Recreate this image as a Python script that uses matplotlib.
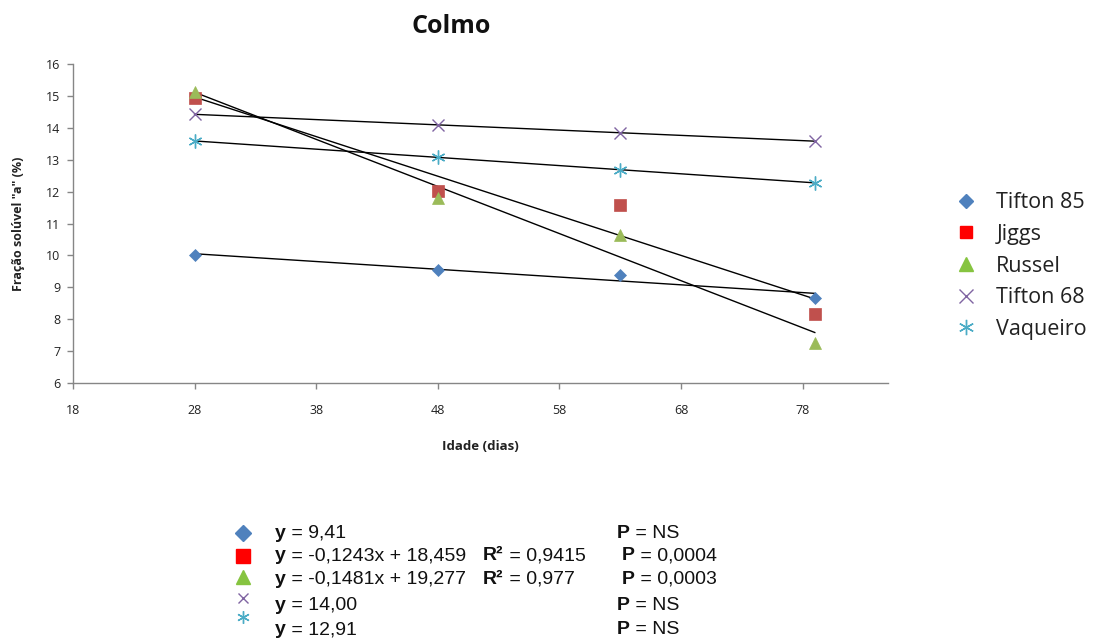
import numpy as np
import matplotlib
matplotlib.use("Agg")
import matplotlib.pyplot as plt
from matplotlib.lines import Line2D

# ---- data ----
days = [28, 48, 63, 79]
series_names = ["Tifton 85", "Jiggs", "Russel", "Tifton 68", "Vaqueiro"]
tifton85 = [10.0, 9.55, 9.4, 8.68]
jiggs = [14.95, 12.02, 11.58, 8.16]
russel = [15.12, 11.8, 10.64, 7.25]
tifton68 = [14.43, 14.09, 13.84, 13.59]
vaqueiro = [13.59, 13.08, 12.68, 12.28]
x_ticks = [18, 28, 38, 48, 58, 68, 78]
y_ticks = [6, 7, 8, 9, 10, 11, 12, 13, 14, 15, 16]

eq_lines = ["= 9,41", "= -0,1243x + 18,459", "= -0,1481x + 19,277", "= 14,00", "= 12,91"]
r2_lines = [None, "= 0,9415", "= 0,977", None, None]
p_lines = ["= NS", "= 0,0004", "= 0,0003", "= NS", "= NS"]

values = [tifton85, jiggs, russel, tifton68, vaqueiro]
colors = ["#4F81BD", "#C0504D", "#9BBB59", "#8064A2", "#4BACC6"]
legend_colors = ["#4F81BD", "#FF0000", "#86C440", "#8064A2", "#4BACC6"]
markers = ["D", "s", "^", "x", (6, 2, 0)]
msizes = [6.5, 8.5, 9, 9, 10]

fig = plt.figure(figsize=(10.96, 6.41), dpi=100)
ax = fig.add_axes([0.0666, 0.4025, 0.7434, 0.4975])

FONT = "Open Sans"
for name, vals, c, m, ms in zip(series_names, values, colors, markers, msizes):
    ax.plot(days, vals, linestyle="none", marker=m, color=c, markersize=ms,
            markeredgewidth=1.0 if m in ("x",) or isinstance(m, tuple) else 0.5,
            markeredgecolor=c, zorder=3)
    a, b = np.polyfit(days, vals, 1)
    xs = np.array([days[0], days[-1]])
    ax.plot(xs, a * xs + b, color="black", linewidth=1.0, zorder=2)

ax.set_xlim(18, 85)
ax.set_ylim(6, 16)
ax.set_xticks(x_ticks)
ax.set_yticks(y_ticks)
for s in ["top", "right"]:
    ax.spines[s].set_visible(False)
for s in ["left", "bottom"]:
    ax.spines[s].set_color("#868686")
    ax.spines[s].set_linewidth(1.0)
ax.tick_params(axis="both", colors="#868686", length=4, width=1, labelcolor="#222222",
               labelsize=9)
for lab in ax.get_xticklabels() + ax.get_yticklabels():
    lab.set_fontfamily(FONT)
ax.tick_params(axis="x", pad=11)
ax.tick_params(axis="y", pad=5)

ax.set_xlabel("Idade (dias)", fontsize=9.5, fontweight="bold", fontfamily=FONT, labelpad=17,
              color="#222222")
ax.set_ylabel('Fração solúvel "a" (%)', fontsize=9, fontweight="bold", fontfamily=FONT,
              labelpad=15, color="#222222")
fig.text(0.412, 0.958, "Colmo", fontsize=18, fontweight="bold", fontfamily=FONT,
         ha="center", va="center", color="#111111")

# right legend
handles = [Line2D([], [], linestyle="none", marker=m, color=c, markeredgecolor=c,
                  markersize=ms * 1.1, markeredgewidth=1.0)
           for m, c, ms in zip(markers, legend_colors, msizes)]
fig.legend(handles, series_names, loc="center left", bbox_to_anchor=(0.854, 0.585),
           frameon=False, prop={"family": FONT, "size": 15.5}, handlelength=0.95,
           handletextpad=0.95, labelspacing=0.49, labelcolor="#222222")

# bottom equation block
mark_y = [533, 556, 577, 598, 617]
text_y = [533, 556, 579, 605, 630]
H = 641.0
FS = 14
for i in range(5):
    fy = 1 - mark_y[i] / H
    fig.lines.append(Line2D([243 / 1096], [fy], transform=fig.transFigure,
                            linestyle="none", marker=markers[i], color=legend_colors[i],
                            markeredgecolor=legend_colors[i],
                            markersize=[8.5, 10.5, 10, 7, 9][i],
                            markeredgewidth=1.0))
    ty = 1 - text_y[i] / H
    t = fig.text(275 / 1096, ty, "y", fontsize=FS, fontweight="bold",
                 fontfamily="Liberation Sans", va="center", color="#111111")
    plt.annotate(" " + eq_lines[i], xy=(1, 0.5), xycoords=t, va="center",
                 fontsize=FS, fontfamily="Liberation Sans", color="#111111",
                 annotation_clip=False)
    if r2_lines[i]:
        tr = fig.text(483 / 1096, ty, "R²", fontsize=FS, fontweight="bold",
                      fontfamily="Liberation Sans", va="center", color="#111111")
        plt.annotate(" " + r2_lines[i], xy=(1, 0.5), xycoords=tr, va="center",
                     fontsize=FS, fontfamily="Liberation Sans", color="#111111",
                     annotation_clip=False)
    px = 617 if r2_lines[i] is None else 622
    tp = fig.text(px / 1096, ty, "P", fontsize=FS, fontweight="bold",
                  fontfamily="Liberation Sans", va="center", color="#111111")
    plt.annotate(" " + p_lines[i], xy=(1, 0.5), xycoords=tp, va="center",
                 fontsize=FS, fontfamily="Liberation Sans", color="#111111",
                 annotation_clip=False)

fig.savefig("out.png", dpi=100)
